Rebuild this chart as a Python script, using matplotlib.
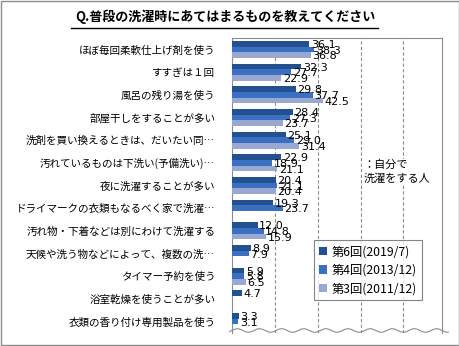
import numpy as np
import matplotlib
matplotlib.use("Agg")
import matplotlib.pyplot as plt
from matplotlib.patches import Rectangle

plt.rcParams['font.family'] = ['Noto Sans CJK JP', 'DejaVu Sans']

categories = [
    "ほぼ毎回柔軟仕上げ剤を使う",
    "すすぎは１回",
    "風呂の残り湯を使う",
    "部屋干しをすることが多い",
    "洗剤を買い換えるときは、だいたい同…",
    "汚れているものは下洗い(予備洗い)…",
    "夜に洗濯することが多い",
    "ドライマークの衣類もなるべく家で洗濯…",
    "汚れ物・下着などは別にわけて洗濯する",
    "天候や洗う物などによって、複数の洗…",
    "タイマー予約を使う",
    "浴室乾燥を使うことが多い",
    "衣類の香り付け専用製品を使う",
]
nan = np.nan
s6 = [36.1, 32.3, 29.8, 28.4, 25.1, 22.9, 20.4, 19.3, 12.0, 8.9, 5.9, 4.7, 3.3]
s4 = [38.3, 27.7, 37.7, 27.3, 29.0, 18.9, 21.1, 23.7, 14.8, 7.9, 5.8, nan, 3.1]
s3 = [36.8, 22.9, 42.5, 23.7, 31.4, 21.1, 20.4, nan, 15.9, nan, 6.5, nan, nan]
series_names = ["第6回(2019/7)", "第4回(2013/12)", "第3回(2011/12)"]
colors = ["#23508f", "#3a6fc2", "#98a8d0"]
title = "Q.普段の洗濯時にあてはまるものを教えてください"
note = "：自分で\n洗濯をする人"

fig = plt.figure(figsize=(4.6, 3.46), dpi=100)
fig.patches.append(Rectangle((0.002, 0.003), 0.995, 0.993, transform=fig.transFigure,
                             fill=False, edgecolor="#8c8c8c", linewidth=1.0))
ax = fig.add_axes([0.504, 0.038, 0.457, 0.852])

n = len(categories)
y = np.arange(n)
h = 0.25
offs = [-h, 0, h]
for vals, off, c, name in zip([s6, s4, s3], offs, colors, series_names):
    v = np.array(vals, dtype=float)
    ax.barh(y + off, v, height=h, color=c, label=name, zorder=3)
    for yi, vi in zip(y + off, v):
        if not np.isnan(vi):
            ax.text(vi + 0.8, yi + 0.05, f"{vi:.1f}", va="center", ha="left",
                    fontsize=8, family="DejaVu Sans", zorder=4)

ax.set_ylim(n - 0.5, -0.5)
ax.set_xlim(0, 98)
ax.set_xticks([20, 40, 60, 80])
ax.set_xticklabels([])
ax.tick_params(axis="x", length=0)
ax.set_yticks(y)
ax.set_yticklabels(categories, fontsize=7.6)
ax.tick_params(axis="y", length=0, pad=12)
ax.grid(axis="x", linestyle=(0, (3, 2)), color="#8c8c8c", linewidth=0.8, zorder=1)
for s in ["top", "right", "left"]:
    ax.spines[s].set_color("#8c8c8c")
    ax.spines[s].set_linewidth(0.8)
ax.spines["bottom"].set_visible(False)

# wavy break line at bottom
wx = np.linspace(-0.01, 1.03, 400)
wy = 0.008 + 0.006 * np.sin(wx * 2 * np.pi * 9.5)
ax.plot(wx, wy, transform=ax.transAxes, color="#8c8c8c", linewidth=0.8, clip_on=False, zorder=5)

leg = ax.legend(loc="lower left", bbox_to_anchor=(0.36, 0.09), fontsize=8.8,
                frameon=True, fancybox=False, edgecolor="#666666",
                handlelength=0.7, handleheight=0.7, handletextpad=0.4,
                borderpad=0.4, labelspacing=0.45)
leg.get_frame().set_linewidth(0.8)

fig.text(0.49, 0.952, title, ha="center", va="center", fontsize=9.4,
         fontweight="bold")
fig.lines.append(plt.Line2D([0.155, 0.822], [0.918, 0.918], transform=fig.transFigure,
                            color="black", linewidth=1.0))
fig.text(0.79, 0.504, note, ha="left", va="center", fontsize=8, linespacing=1.3,
         bbox=dict(facecolor="white", edgecolor="none", pad=1), zorder=6)

fig.savefig("out.png", dpi=100)
